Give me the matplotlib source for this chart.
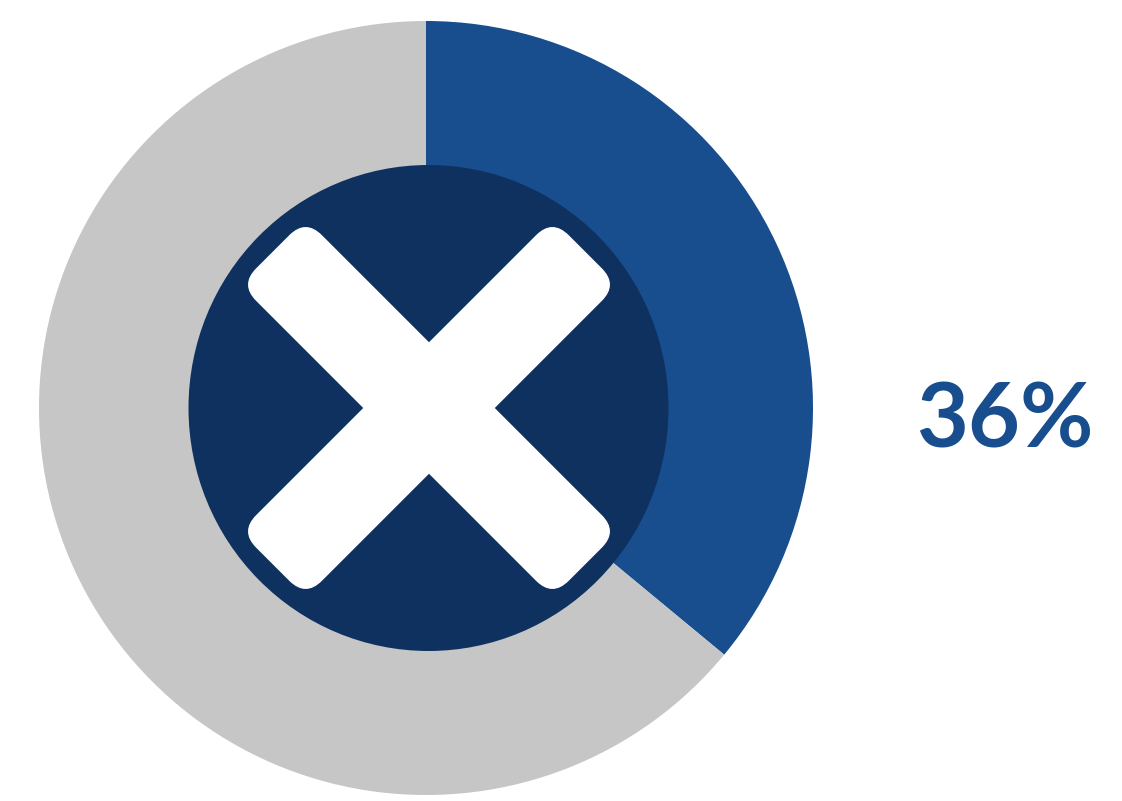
import matplotlib
matplotlib.use("Agg")
import matplotlib.pyplot as plt
from matplotlib.patches import Ellipse, FancyBboxPatch
from matplotlib.transforms import Affine2D

shares = [36, 64]
colors = ["#184d8e", "#c6c6c6"]
label = "36%"

W, H = 1122, 801
fig = plt.figure(figsize=(W / 100, H / 100), dpi=100)
ax = fig.add_axes([0, 0, 1, 1])

# y axis points down here, so angles run the other way round
ax.pie(shares, colors=colors, startangle=-90, counterclock=True,
       center=(426, 408), radius=387, frame=True,
       wedgeprops=dict(linewidth=0))
ax.set_xlim(0, W)
ax.set_ylim(H, 0)
ax.set_aspect("equal")
ax.axis("off")

ax.add_patch(Ellipse((428.5, 408), 480, 486, fc="#0e3160", ec="none", zorder=3))

# the cross: two rounded bars rotated about the centre
cx, cy = 429, 408
L, T = 221, 46.5
R = 23
for ang in (45, -45):
    tr = Affine2D().rotate_deg_around(cx, cy, ang) + ax.transData
    bar = FancyBboxPatch((cx - L + R, cy - T + R), 2 * (L - R), 2 * (T - R),
                         boxstyle=f"round,pad={R},rounding_size={R}",
                         fc="white", ec="none", zorder=4, transform=tr)
    ax.add_patch(bar)

ax.text(1005, 421, label, color="#184d8e", fontsize=64.5, family="Lato",
        ha="center", va="center", fontweight="bold")

fig.savefig("out.png", dpi=100)
